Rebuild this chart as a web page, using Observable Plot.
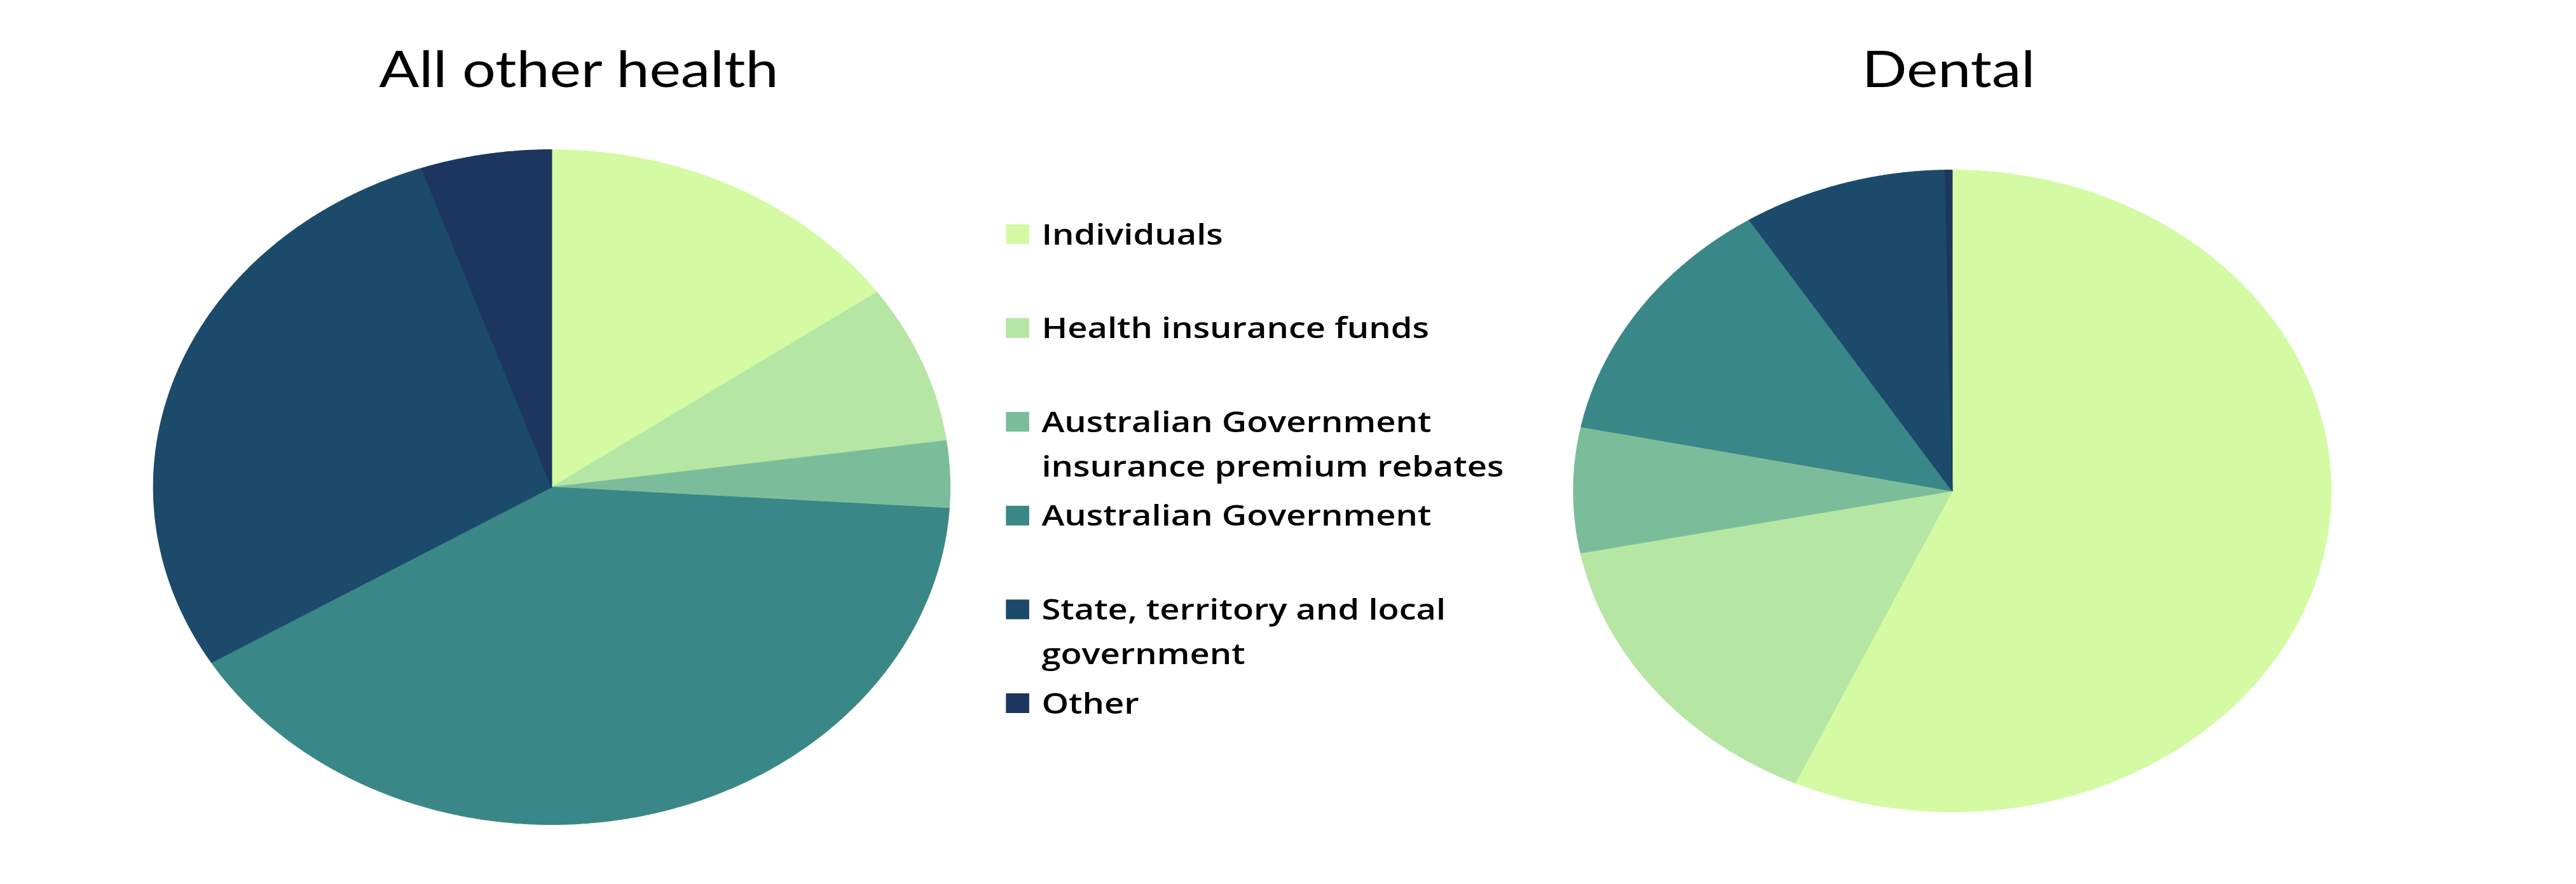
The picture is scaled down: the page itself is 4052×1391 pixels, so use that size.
<!DOCTYPE html>
<html>
<head>
<meta charset="utf-8">
<script src="https://cdn.jsdelivr.net/npm/d3@7"></script>
<script src="https://cdn.jsdelivr.net/npm/@observablehq/plot@0.6"></script>
<style>
  html, body { margin: 0; padding: 0; background: #fff; overflow: hidden; }
  #chart svg { display: block; }
</style>
</head>
<body>
<div id="chart"></div>
<script>
// ---- data (percent shares of funding) ----
const categories = [
  "Individuals",
  "Health insurance funds",
  "Australian Government insurance premium rebates",
  "Australian Government",
  "State, territory and local government",
  "Other"
];
const legendLabels = [
  "Individuals",
  "Health insurance funds",
  "Australian Government\ninsurance premium rebates",
  "Australian Government",
  "State, territory and local\ngovernment",
  "Other"
];
const allOtherHealth = [15.2, 7.6, 3.2, 40.3, 28.4, 5.3];
const dental = [56.8, 15.1, 6.3, 12.8, 8.7, 0.3];
const titles = ["All other health", "Dental"];
const colors = ["#d4fba4", "#b5e6a4", "#7bbd9b", "#3a8787", "#1c4a6a", "#1c365f"];

// ---- layout (unstretched drawing space; the picture is stretched horizontally) ----
const STRETCH = 1.18;
const OUT_W = 4052, H = 1391;
const W = Math.round(OUT_W / STRETCH);
const pies = [
  {title: titles[0], values: allOtherHealth, cx: 735, cy: 766, r: 531, tx: 771},
  {title: titles[1], values: dental, cx: 2602, cy: 772, r: 505, tx: 2597}
];
const titleBaseline = 136;
const legendX = 1341, legendBox = 31, legendTextX = 1388, legendTop0 = 353, legendStep = 147.6;
const legendFont = 46, legendLineGap = 70;

// ---- wedge outlines from d3.pie ----
const wedgePoints = [];
pies.forEach((p, pi) => {
  const arcs = d3.pie().sort(null).value(d => d)(p.values);
  arcs.forEach((a, i) => {
    const key = pi + "-" + i;
    const cat = categories[i];
    const step = Math.PI / 720;
    const n = Math.max(2, Math.ceil((a.endAngle - a.startAngle) / step));
    wedgePoints.push({key, cat, x: p.cx, y: p.cy});
    for (let k = 0; k <= n; k++) {
      const t = a.startAngle + (a.endAngle - a.startAngle) * k / n;
      wedgePoints.push({key, cat, x: p.cx + p.r * Math.sin(t), y: p.cy - p.r * Math.cos(t)});
    }
    wedgePoints.push({key, cat, x: p.cx, y: p.cy});
  });
});

const legendRows = categories.map((c, i) => {
  const top = legendTop0 + i * legendStep;
  const nLines = legendLabels[i].split("\n").length;
  return {
    cat: c, label: legendLabels[i],
    x1: legendX, x2: legendX + legendBox, y1: top, y2: top + legendBox,
    tx: legendTextX, ty: top + legendBox + (nLines - 1) * legendLineGap
  };
});

const svg = Plot.plot({
  width: W,
  height: H,
  margin: 0,
  style: {background: "#fff"},
  x: {domain: [0, W], range: [0, W], axis: null},
  y: {domain: [0, H], range: [0, H], axis: null},
  color: {domain: categories, range: colors},
  marks: [
    Plot.line(wedgePoints, {x: "x", y: "y", z: "key", fill: "cat", stroke: "cat", strokeWidth: 1, curve: "linear"}),
    Plot.text(pies, {x: "tx", y: () => titleBaseline, text: "title", lineAnchor: "bottom",
      fontSize: 79, fontFamily: "Lato", fill: "#000", textAnchor: "middle"}),
    Plot.rect(legendRows, {x1: "x1", x2: "x2", y1: "y1", y2: "y2", fill: "cat"}),
    Plot.text(legendRows, {x: "tx", y: "ty", text: "label", textAnchor: "start", lineAnchor: "bottom",
      lineHeight: legendLineGap / legendFont, fontSize: legendFont, fontWeight: 600,
      fontFamily: "Open Sans", fill: "#000"})
  ]
});

svg.setAttribute("viewBox", `0 0 ${W} ${H}`);
svg.setAttribute("width", OUT_W);
svg.setAttribute("height", H);
svg.setAttribute("preserveAspectRatio", "none");
svg.style.maxWidth = "none";
svg.style.width = OUT_W + "px";
svg.style.height = H + "px";
document.getElementById("chart").appendChild(svg);
</script>
</body>
</html>
